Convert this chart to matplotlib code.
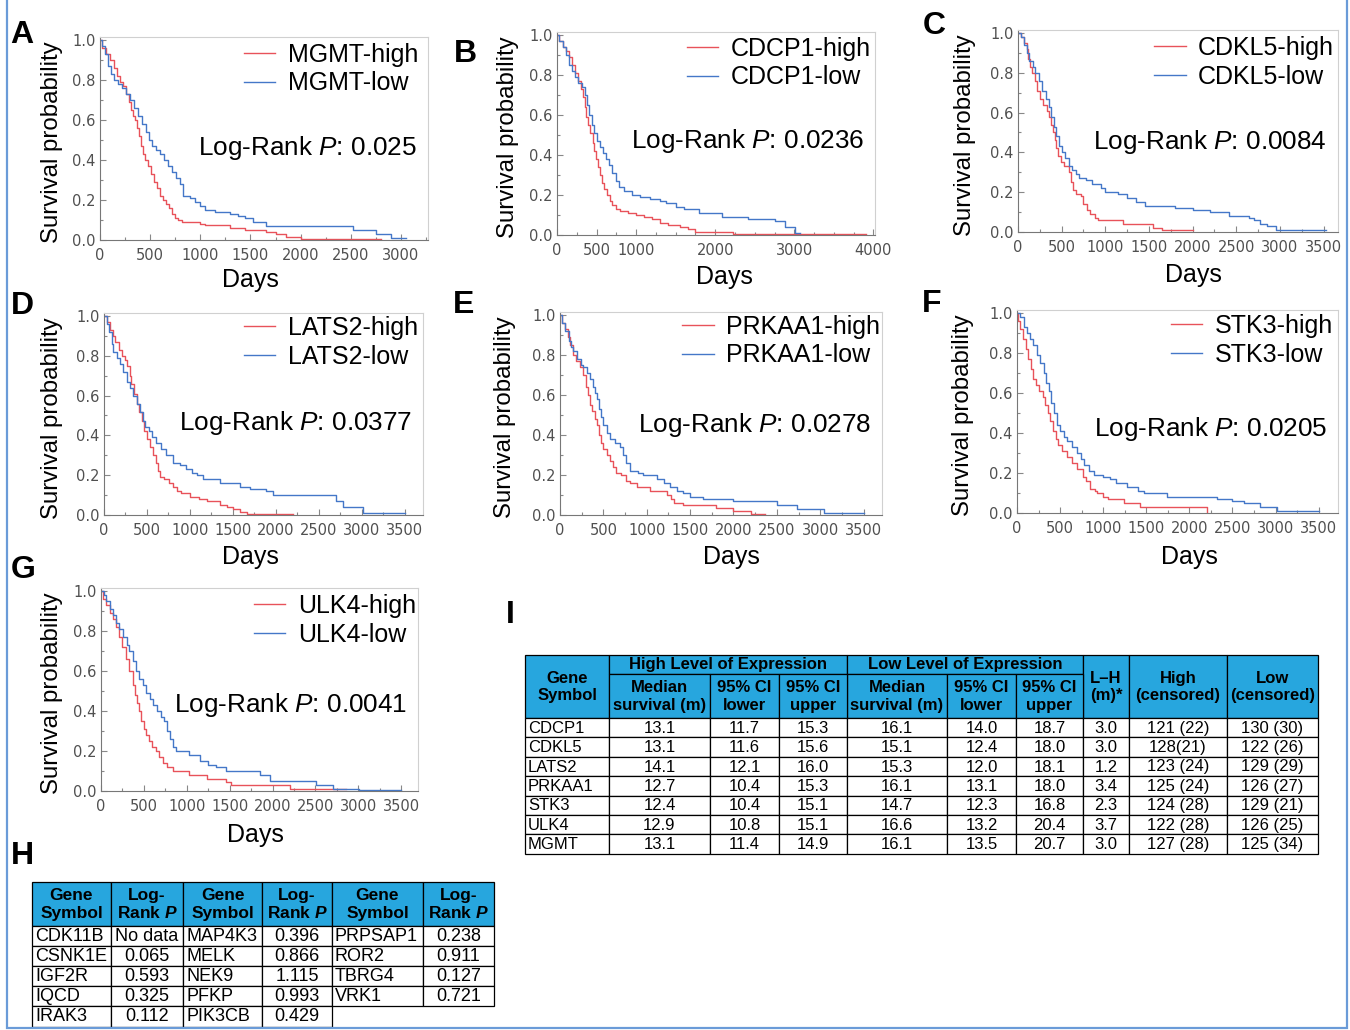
import matplotlib
matplotlib.use("Agg")
import matplotlib.pyplot as plt
from matplotlib.patches import Rectangle
from matplotlib.ticker import MultipleLocator, FixedLocator, FormatStrFormatter

plt.rcParams['font.family'] = ['Liberation Sans', 'DejaVu Sans']
plt.rcParams['mathtext.fontset'] = 'custom'
plt.rcParams['mathtext.rm'] = 'Liberation Sans'
plt.rcParams['mathtext.it'] = 'Liberation Sans:italic'
plt.rcParams['mathtext.bf'] = 'Liberation Sans:bold'
plt.rcParams['mathtext.bfit'] = 'Liberation Sans:italic:bold'

W, H = 1350, 1030
RED = '#e8525a'
BLUE = '#4477c8'
HEAD = '#27a6de'

# ---- Kaplan-Meier curves (days, survival) ----
mgmt_high_t = [0, 20, 60, 100, 140, 170, 200, 230, 260, 290, 310, 330, 350, 370, 390, 410, 430, 450, 480, 510,
               540, 570, 600, 630, 660, 690, 720, 750, 780, 820, 1000, 1050, 1300, 1450, 1650, 1750, 1850, 2000, 2800]
mgmt_high_s = [1.00, 0.96, 0.93, 0.90, 0.86, 0.82, 0.79, 0.77, 0.73, 0.69, 0.65, 0.62, 0.60, 0.56, 0.52, 0.47, 0.43,
               0.40, 0.37, 0.33, 0.29, 0.26, 0.22, 0.20, 0.18, 0.16, 0.13, 0.11, 0.10, 0.09, 0.08, 0.075, 0.06, 0.05,
               0.04, 0.03, 0.015, 0.003, 0.003]
mgmt_low_t = [0, 20, 50, 80, 110, 140, 180, 220, 260, 300, 340, 380, 420, 460, 490, 520, 560, 600, 640, 680, 720,
              760, 800, 830, 900, 950, 1000, 1050, 1150, 1300, 1380, 1450, 1530, 1650, 2520, 2750, 2900, 3050]
mgmt_low_s = [1.00, 0.97, 0.93, 0.87, 0.83, 0.80, 0.78, 0.76, 0.73, 0.70, 0.66, 0.62, 0.58, 0.54, 0.50, 0.47, 0.45,
              0.43, 0.40, 0.37, 0.34, 0.31, 0.28, 0.22, 0.21, 0.19, 0.17, 0.15, 0.14, 0.13, 0.12, 0.11, 0.09, 0.07,
              0.05, 0.03, 0.01, 0.01]

cdcp1_high_t = [0, 30, 70, 110, 150, 190, 230, 270, 300, 330, 350, 370, 390, 420, 450, 470, 495, 520, 545, 570, 600,
                630, 665, 700, 750, 800, 900, 1000, 1100, 1200, 1300, 1400, 1550, 1650, 1750, 2220, 3900]
cdcp1_high_s = [1.00, 0.97, 0.94, 0.92, 0.89, 0.85, 0.81, 0.77, 0.73, 0.69, 0.64, 0.59, 0.55, 0.51, 0.46, 0.42, 0.38,
                0.34, 0.30, 0.26, 0.23, 0.20, 0.17, 0.15, 0.13, 0.12, 0.11, 0.10, 0.09, 0.08, 0.06, 0.05, 0.04, 0.03,
                0.015, 0.003, 0.003]
cdcp1_low_t = [0, 30, 70, 110, 150, 190, 230, 270, 310, 350, 380, 410, 440, 470, 500, 540, 580, 620, 660, 700, 750,
               790, 850, 950, 1050, 1170, 1300, 1380, 1500, 1600, 1800, 2090, 2420, 2760, 2880, 3010, 3076]
cdcp1_low_s = [1.00, 0.97, 0.94, 0.90, 0.85, 0.82, 0.79, 0.76, 0.74, 0.70, 0.65, 0.60, 0.55, 0.51, 0.47, 0.44, 0.41,
               0.38, 0.35, 0.31, 0.27, 0.24, 0.22, 0.20, 0.19, 0.18, 0.17, 0.16, 0.14, 0.13, 0.11, 0.09, 0.08, 0.07,
               0.04, 0.01, 0.01]

cdkl5_high_t = [0, 30, 70, 100, 120, 140, 160, 190, 220, 250, 290, 330, 360, 380, 400, 420, 440, 460, 490, 530, 580,
                610, 625, 660, 720, 750, 790, 830, 880, 920, 1200, 1550, 1650, 2000]
cdkl5_high_s = [1.00, 0.98, 0.95, 0.92, 0.87, 0.83, 0.80, 0.76, 0.71, 0.67, 0.64, 0.61, 0.58, 0.54, 0.50, 0.46, 0.42,
                0.38, 0.35, 0.33, 0.30, 0.25, 0.21, 0.19, 0.18, 0.14, 0.11, 0.09, 0.07, 0.06, 0.04, 0.02, 0.01, 0.01]
cdkl5_low_t = [0, 30, 70, 100, 130, 170, 200, 240, 280, 320, 350, 380, 410, 440, 470, 500, 540, 580, 620, 660, 700,
               780, 850, 950, 1000, 1150, 1250, 1350, 1450, 1800, 2000, 2200, 2420, 2650, 2700, 2770, 2850, 2960, 3530]
cdkl5_low_s = [1.00, 0.98, 0.94, 0.90, 0.86, 0.83, 0.80, 0.76, 0.71, 0.67, 0.63, 0.58, 0.53, 0.48, 0.43, 0.40, 0.37,
               0.33, 0.31, 0.29, 0.27, 0.26, 0.24, 0.22, 0.20, 0.19, 0.17, 0.15, 0.13, 0.12, 0.11, 0.10, 0.08, 0.07,
               0.06, 0.04, 0.03, 0.01, 0.01]

lats2_high_t = [0, 30, 70, 100, 130, 170, 205, 240, 270, 300, 320, 350, 380, 410, 440, 470, 500, 540, 570, 600, 630,
                655, 700, 760, 800, 850, 900, 1000, 1100, 1200, 1350, 1430, 1500, 1580, 1660, 2200]
lats2_high_s = [1.00, 0.97, 0.93, 0.90, 0.87, 0.83, 0.80, 0.78, 0.75, 0.70, 0.66, 0.61, 0.56, 0.52, 0.47, 0.42, 0.38,
                0.34, 0.30, 0.26, 0.22, 0.19, 0.18, 0.16, 0.14, 0.12, 0.11, 0.09, 0.08, 0.07, 0.05, 0.04, 0.03, 0.015,
                0.003, 0.003]
lats2_low_t = [0, 30, 60, 90, 110, 150, 186, 220, 264, 300, 341, 380, 419, 450, 480, 520, 560, 610, 660, 720, 800,
               880, 960, 1020, 1080, 1150, 1350, 1580, 1700, 1890, 1970, 2700, 2780, 3020, 3500]
lats2_low_s = [1.00, 0.96, 0.92, 0.86, 0.82, 0.79, 0.76, 0.72, 0.67, 0.64, 0.60, 0.56, 0.52, 0.47, 0.44, 0.42, 0.39,
               0.36, 0.33, 0.30, 0.26, 0.25, 0.23, 0.21, 0.20, 0.18, 0.16, 0.14, 0.13, 0.12, 0.10, 0.07, 0.04, 0.01,
               0.01]

prkaa1_high_t = [0, 20, 58, 90, 120, 154, 190, 230, 269, 300, 320, 346, 370, 400, 423, 450, 475, 500, 540, 580, 615,
                 650, 700, 760, 808, 885, 1040, 1230, 1280, 1310, 1420, 1800, 2000, 2200, 2365]
prkaa1_high_s = [1.00, 0.96, 0.93, 0.89, 0.85, 0.80, 0.77, 0.74, 0.70, 0.64, 0.60, 0.55, 0.52, 0.48, 0.45, 0.40, 0.36,
                 0.33, 0.30, 0.27, 0.24, 0.21, 0.20, 0.17, 0.16, 0.14, 0.12, 0.10, 0.08, 0.06, 0.05, 0.035, 0.02,
                 0.005, 0.005]
prkaa1_low_t = [0, 20, 58, 100, 130, 154, 200, 240, 270, 310, 346, 380, 400, 423, 450, 475, 500, 540, 577, 630, 692,
                731, 760, 808, 900, 962, 1115, 1200, 1269, 1350, 1423, 1500, 1650, 2000, 2500, 2730, 3040, 3500]
prkaa1_low_s = [1.00, 0.96, 0.92, 0.87, 0.84, 0.82, 0.78, 0.75, 0.74, 0.71, 0.68, 0.64, 0.61, 0.58, 0.53, 0.49, 0.45,
                0.41, 0.38, 0.36, 0.34, 0.30, 0.26, 0.22, 0.21, 0.20, 0.18, 0.16, 0.14, 0.12, 0.11, 0.09, 0.08, 0.07,
                0.05, 0.03, 0.01, 0.01]

stk3_high_t = [0, 15, 39, 70, 100, 130, 160, 190, 220, 260, 300, 330, 360, 387, 420, 450, 480, 520, 580, 640, 700,
               770, 800, 850, 900, 930, 1000, 1050, 1240, 1430, 2200]
stk3_high_s = [1.00, 0.96, 0.92, 0.87, 0.82, 0.77, 0.72, 0.67, 0.64, 0.61, 0.58, 0.54, 0.50, 0.46, 0.41, 0.37, 0.34,
               0.31, 0.28, 0.25, 0.22, 0.18, 0.16, 0.12, 0.11, 0.10, 0.08, 0.07, 0.05, 0.03, 0.0]
stk3_low_t = [0, 30, 77, 120, 155, 190, 232, 270, 309, 340, 370, 400, 430, 464, 500, 540, 580, 640, 696, 740, 780,
              830, 890, 1000, 1080, 1150, 1280, 1400, 1470, 1740, 2320, 2500, 2630, 2820, 3020, 3500]
stk3_low_s = [1.00, 0.98, 0.93, 0.90, 0.87, 0.84, 0.79, 0.75, 0.70, 0.65, 0.61, 0.55, 0.50, 0.44, 0.41, 0.38, 0.36,
              0.33, 0.30, 0.27, 0.24, 0.21, 0.19, 0.18, 0.17, 0.15, 0.13, 0.11, 0.10, 0.08, 0.07, 0.06, 0.05, 0.03,
              0.01, 0.01]

ulk4_high_t = [0, 20, 58, 100, 136, 170, 214, 250, 292, 330, 370, 400, 425, 447, 470, 500, 525, 560, 600, 642, 680,
               720, 770, 840, 1030, 1230, 1460, 1520, 2200, 2860]
ulk4_high_s = [1.00, 0.96, 0.93, 0.89, 0.86, 0.82, 0.77, 0.72, 0.66, 0.60, 0.53, 0.48, 0.44, 0.40, 0.35, 0.31, 0.28,
               0.25, 0.22, 0.20, 0.17, 0.14, 0.12, 0.10, 0.08, 0.06, 0.045, 0.03, 0.01, 0.01]
ulk4_low_t = [0, 30, 58, 100, 136, 180, 214, 260, 300, 331, 370, 408, 440, 486, 530, 570, 603, 650, 700, 730, 770,
              800, 840, 875, 1030, 1150, 1250, 1340, 1460, 1850, 1970, 2510, 2700, 3010, 3500]
ulk4_low_s = [1.00, 0.98, 0.95, 0.91, 0.88, 0.84, 0.81, 0.77, 0.73, 0.70, 0.65, 0.60, 0.56, 0.53, 0.49, 0.46, 0.43,
              0.40, 0.37, 0.35, 0.30, 0.26, 0.22, 0.20, 0.18, 0.15, 0.13, 0.12, 0.10, 0.08, 0.05, 0.03, 0.01, 0.003,
              0.003]

genes_km = ['MGMT', 'CDCP1', 'CDKL5', 'LATS2', 'PRKAA1', 'STK3', 'ULK4']
pvals_km = ['0.025', '0.0236', '0.0084', '0.0377', '0.0278', '0.0205', '0.0041']
ticks_std = [0, 500, 1000, 1500, 2000, 2500, 3000, 3500]
ticks_a = [0, 500, 1000, 1500, 2000, 2500, 3000]
ticks_b = [0, 500, 1000, 2000, 3000, 4000]

# ---- Table I ----
ti_genes = ['CDCP1', 'CDKL5', 'LATS2', 'PRKAA1', 'STK3', 'ULK4', 'MGMT']
ti_high_med = ['13.1', '13.1', '14.1', '12.7', '12.4', '12.9', '13.1']
ti_high_lo = ['11.7', '11.6', '12.1', '10.4', '10.4', '10.8', '11.4']
ti_high_hi = ['15.3', '15.6', '16.0', '15.3', '15.1', '15.1', '14.9']
ti_low_med = ['16.1', '15.1', '15.3', '16.1', '14.7', '16.6', '16.1']
ti_low_lo = ['14.0', '12.4', '12.0', '13.1', '12.3', '13.2', '13.5']
ti_low_hi = ['18.7', '18.0', '18.1', '18.0', '16.8', '20.4', '20.7']
ti_diff = ['3.0', '3.0', '1.2', '3.4', '2.3', '3.7', '3.0']
ti_high_n = ['121 (22)', '128(21)', '123 (24)', '125 (24)', '124 (28)', '122 (28)', '127 (28)']
ti_low_n = ['130 (30)', '122 (26)', '129 (29)', '126 (27)', '129 (21)', '126 (25)', '125 (34)']

# ---- Table H ----
th_genes1 = ['CDK11B', 'CSNK1E', 'IGF2R', 'IQCD', 'IRAK3']
th_p1 = ['No data', '0.065', '0.593', '0.325', '0.112']
th_genes2 = ['MAP4K3', 'MELK', 'NEK9', 'PFKP', 'PIK3CB']
th_p2 = ['0.396', '0.866', '1.115', '0.993', '0.429']
th_genes3 = ['PRPSAP1', 'ROR2', 'TBRG4', 'VRK1']
th_p3 = ['0.238', '0.911', '0.127', '0.721']

fig = plt.figure(figsize=(W / 100, H / 100), dpi=100)


def rect(l, r, t, b):
    return [l / W, 1 - b / H, (r - l) / W, (b - t) / H]


# panel layout: (axes l, r, t, b), xmax, ticks, legend anchor, logrank y, days x/y, ylabel x, letter
panels = [
    ((100, 428, 37, 240), 3270, ticks_a, (418, 43), 148, (250, 280), 52, ('A', 22, 35)),
    ((557, 875, 32, 235), 4020, ticks_b, (871, 37), 141, (724, 277), 508, ('B', 465, 54)),
    ((1018, 1338, 30, 232), 3665, ticks_std, (1334, 36), 142, (1193, 275), 965, ('C', 934, 26)),
    ((104, 423, 313, 515), 3713, ticks_std, (418, 316), 423, (250, 557), 52, ('D', 22, 306)),
    ((560, 882, 312, 515), 3712, ticks_std, (880, 315), 425, (731, 557), 505, ('E', 464, 305)),
    ((1017, 1338, 310, 513), 3724, ticks_std, (1333, 314), 429, (1189, 557), 963, ('F', 932, 304)),
    ((101, 418, 588, 791), 3695, ticks_std, (416, 594), 705, (255, 835), 52, ('G', 23, 570)),
]
curves = [
    (mgmt_high_t, mgmt_high_s, mgmt_low_t, mgmt_low_s),
    (cdcp1_high_t, cdcp1_high_s, cdcp1_low_t, cdcp1_low_s),
    (cdkl5_high_t, cdkl5_high_s, cdkl5_low_t, cdkl5_low_s),
    (lats2_high_t, lats2_high_s, lats2_low_t, lats2_low_s),
    (prkaa1_high_t, prkaa1_high_s, prkaa1_low_t, prkaa1_low_s),
    (stk3_high_t, stk3_high_s, stk3_low_t, stk3_low_s),
    (ulk4_high_t, ulk4_high_s, ulk4_low_t, ulk4_low_s),
]

labels_to_draw = []
for i, (box, xmax, ticks, leg_xy, lr_y, days_xy, ylab_x, letter) in enumerate(panels):
    l, r, t, b = box
    ax = fig.add_axes(rect(l, r, t, b))
    ht, hs, lt, ls = curves[i]
    gene = genes_km[i]
    ax.step(ht, hs, where='post', color=RED, lw=1.0, label=gene + '-high')
    ax.step(lt, ls, where='post', color=BLUE, lw=1.0, label=gene + '-low')
    ax.set_xlim(0, xmax)
    ax.set_ylim(0, 1.015)
    ax.xaxis.set_major_locator(FixedLocator(ticks))
    ax.xaxis.set_minor_locator(MultipleLocator(250))
    ax.yaxis.set_major_locator(MultipleLocator(0.2))
    ax.yaxis.set_minor_locator(MultipleLocator(0.1))
    ax.yaxis.set_major_formatter(FormatStrFormatter('%.1f'))
    ax.tick_params(which='both', direction='in', color='#888888', width=0.8)
    ax.tick_params(which='major', length=4)
    ax.tick_params(which='minor', length=2.5)
    ax.tick_params(axis='x', pad=6, labelsize=10.5, labelcolor='#505050')
    ax.tick_params(axis='y', pad=3, labelsize=10.5, labelcolor='#505050')
    for lab in ax.get_xticklabels() + ax.get_yticklabels():
        lab.set_fontfamily('DejaVu Sans')
    for sp in ['left', 'bottom']:
        ax.spines[sp].set_color('#777777')
    for sp in ['top', 'right']:
        ax.spines[sp].set_color('#d0d0d0')
    ax.legend(loc='upper right', bbox_to_anchor=(leg_xy[0] / W, 1 - leg_xy[1] / H),
              bbox_transform=fig.transFigure, frameon=False, fontsize=18, handlelength=1.25,
              handletextpad=0.5, labelspacing=0.18, borderpad=0, borderaxespad=0)
    labels_to_draw.append((r - 11, lr_y, 'Log-Rank $P$: ' + pvals_km[i], days_xy, ylab_x, (t + b) / 2 + 4, letter))

# overlay in pixel coordinates for labels, tables and the outer frame
ov = fig.add_axes([0, 0, 1, 1])
ov.set_xlim(0, W)
ov.set_ylim(H, 0)
ov.axis('off')

for (x, y, txt, days_xy, ylab_x, ylab_y, letter) in labels_to_draw:
    ov.text(x, y, txt, fontsize=18.8, ha='right', va='center')
    ov.text(days_xy[0], days_xy[1], 'Days', fontsize=18, ha='center', va='center')
    ov.text(ylab_x, ylab_y, 'Survival probability', fontsize=17.3, rotation=90, ha='center', va='center')
    ov.text(letter[1], letter[2], letter[0], fontsize=23, fontweight='bold', ha='center', va='center')

ov.text(22, 856, 'H', fontsize=23, fontweight='bold', ha='center', va='center')
ov.text(510, 615, 'I', fontsize=23, fontweight='bold', ha='center', va='center')


def cell(x0, y0, x1, y1, txt='', fill='white', bold=False, ha='center', size=11.5):
    ov.add_patch(Rectangle((x0, y0), x1 - x0, y1 - y0, facecolor=fill, edgecolor='black', lw=0.9))
    if txt:
        tx = (x0 + x1) / 2 if ha == 'center' else x0 + 3
        ov.text(tx, (y0 + y1) / 2 + 0.5, txt, ha=ha, va='center', fontsize=size,
                fontweight='bold' if bold else 'normal', linespacing=1.2)


# Table I
cx = [525, 609, 710, 779, 847, 947, 1016, 1083, 1129, 1227, 1318]
hy = [655, 674, 718]
rh = 19.4
hs_ = 12
cell(cx[0], hy[0], cx[1], hy[2], 'Gene\nSymbol', HEAD, True, size=hs_)
cell(cx[1], hy[0], cx[4], hy[1], 'High Level of Expression', HEAD, True, size=hs_)
cell(cx[4], hy[0], cx[7], hy[1], 'Low Level of Expression', HEAD, True, size=hs_)
cell(cx[7], hy[0], cx[8], hy[2], 'L–H\n(m)*', HEAD, True, size=hs_)
cell(cx[8], hy[0], cx[9], hy[2], 'High\n(censored)', HEAD, True, size=hs_)
cell(cx[9], hy[0], cx[10], hy[2], 'Low\n(censored)', HEAD, True, size=hs_)
sub = ['Median\nsurvival (m)', '95% CI\nlower', '95% CI\nupper']
for k in range(3):
    cell(cx[1 + k], hy[1], cx[2 + k], hy[2], sub[k], HEAD, True, size=hs_)
    cell(cx[4 + k], hy[1], cx[5 + k], hy[2], sub[k], HEAD, True, size=hs_)
cols_i = [ti_genes, ti_high_med, ti_high_lo, ti_high_hi, ti_low_med, ti_low_lo, ti_low_hi,
          ti_diff, ti_high_n, ti_low_n]
for r_ in range(len(ti_genes)):
    y0 = hy[2] + r_ * rh
    for c, col in enumerate(cols_i):
        cell(cx[c], y0, cx[c + 1], y0 + rh, col[r_], ha='left' if c == 0 else 'center', size=12)

# Table H
hx = [32, 111, 183, 262, 332, 423, 494]
hh = [882, 926]
rh2 = 20.1
for g in range(3):
    cell(hx[2 * g], hh[0], hx[2 * g + 1], hh[1], 'Gene\nSymbol', HEAD, True, size=12.5)
    cell(hx[2 * g + 1], hh[0], hx[2 * g + 2], hh[1], 'Log-\nRank $\\mathbfit{P}$', HEAD, True, size=12.5)
groups = [(th_genes1, th_p1), (th_genes2, th_p2), (th_genes3, th_p3)]
for g, (gn, pv) in enumerate(groups):
    for r_ in range(len(gn)):
        y0 = hh[1] + r_ * rh2
        cell(hx[2 * g], y0, hx[2 * g + 1], y0 + rh2, gn[r_], ha='left', size=13)
        cell(hx[2 * g + 1], y0, hx[2 * g + 2], y0 + rh2, pv[r_], size=13)

# outer light-blue frame
ov.add_patch(Rectangle((7, -10), 1340, 1038, facecolor='none', edgecolor='#6a9bd8', lw=1.6))

fig.savefig('out.png', dpi=100)
